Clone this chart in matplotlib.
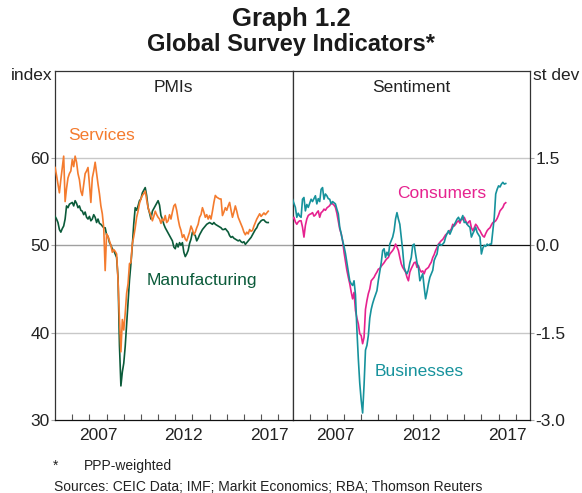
import matplotlib
matplotlib.use("Agg")
import matplotlib.pyplot as plt
import numpy as np

plt.rcParams['font.family'] = ['Liberation Sans', 'DejaVu Sans']

start_year = 2005
services = [
    58.9, 58.0, 57.0, 56.0, 57.5, 58.8, 60.2, 55.0, 56.5, 57.7, 58.2, 58.5,
    59.8, 59.0, 60.2, 59.5, 58.2, 57.5, 56.2, 55.7, 57.0, 58.2, 58.5, 58.9,
    57.0, 54.9, 57.7, 58.5, 59.5, 58.2, 57.0, 55.9, 54.5, 53.6, 52.0, 47.1,
    51.3, 51.0, 50.5, 50.0, 49.2, 49.5, 49.3, 49.0, 46.0, 41.5, 37.8, 41.5,
    40.3, 42.2, 44.5, 45.6, 47.9, 48.0, 50.2, 51.0, 52.0, 53.2, 53.9, 54.8,
    55.3, 55.7, 55.9, 56.2, 55.2, 54.3, 53.8, 53.4, 52.8, 53.3, 53.9, 53.5,
    53.2, 53.0, 52.5, 53.0, 52.8, 53.4, 52.6, 52.8, 53.5, 53.0, 53.8, 54.5,
    54.7, 54.0, 53.0, 52.2, 51.7, 50.9, 51.2, 50.7, 50.5, 51.0, 51.5, 52.2,
    51.8, 51.2, 51.5, 52.0, 52.4, 53.2, 53.5, 54.3, 53.8, 53.2, 53.5, 53.0,
    53.4, 53.0, 53.9, 54.9, 55.7, 55.5, 55.4, 55.3, 55.3, 53.4, 53.8, 54.3,
    54.0, 54.5, 54.9, 54.0, 53.2, 53.8, 54.5, 53.9, 53.2, 52.8, 52.4, 52.0,
    51.5, 51.2, 51.5, 51.3, 51.8, 51.6, 51.7, 52.2, 52.6, 53.0, 53.3, 53.6,
    53.3, 53.5, 53.7, 53.5, 53.7, 53.9,
]
manufacturing = [
    53.3, 53.0, 52.6, 51.8, 51.5, 51.9, 52.2, 53.0, 54.5, 54.3, 54.7, 54.8,
    54.9, 54.5, 55.1, 54.8, 54.3, 54.5, 54.0, 53.9, 53.5, 53.8, 53.2, 53.0,
    53.3, 52.8, 53.0, 53.5, 53.2, 52.6, 53.0, 52.5, 52.4, 52.2, 52.0, 52.0,
    51.2, 51.0, 50.3, 50.0, 49.6, 49.4, 49.0, 48.6, 46.3, 38.5, 33.9, 35.5,
    36.5, 38.4, 41.0, 43.5, 46.0, 47.9, 50.0, 52.5, 54.3, 54.0, 54.5, 55.1,
    55.3, 56.0, 56.3, 56.6, 55.7, 54.3, 53.7, 53.0, 53.9, 54.2, 54.5, 54.8,
    55.1, 54.6, 53.4, 53.0, 52.4, 52.0, 51.7, 51.4, 51.1, 50.8, 50.5, 49.8,
    49.6, 50.2, 49.8, 50.3, 50.0, 50.3, 49.2, 48.7, 49.0, 49.4, 50.2, 50.7,
    51.5, 51.3, 51.1, 50.5, 50.8, 51.2, 51.5, 51.8, 52.0, 52.2, 52.4, 52.5,
    52.6, 52.5, 52.4, 52.6, 52.4, 52.3, 52.2, 52.1, 52.0, 51.8, 51.8, 51.9,
    51.7, 51.5, 51.1, 50.9, 51.0, 50.8, 50.7, 50.6, 50.5, 50.6, 50.4, 50.3,
    50.4, 50.1, 50.3, 50.5, 50.7, 50.9, 51.2, 51.5, 51.8, 52.0, 52.4, 52.6,
    52.8, 52.9, 52.9, 52.7, 52.6, 52.6,
]
consumers = [
    0.45, 0.48, 0.40, 0.36, 0.40, 0.42, 0.42, 0.31, 0.14, 0.34, 0.45, 0.51,
    0.53, 0.54, 0.56, 0.50, 0.52, 0.56, 0.59, 0.48, 0.56, 0.58, 0.62, 0.60,
    0.64, 0.66, 0.68, 0.73, 0.71, 0.69, 0.65, 0.55, 0.42, 0.28, 0.20, 0.08,
    -0.12, -0.28, -0.43, -0.55, -0.66, -0.80, -0.92, -0.81, -1.12, -1.25, -1.35, -1.52,
    -1.55, -1.69, -1.58, -1.10, -0.95, -0.83, -0.75, -0.61, -0.58, -0.55, -0.50, -0.46,
    -0.41, -0.40, -0.36, -0.33, -0.30, -0.26, -0.23, -0.21, -0.15, -0.12, -0.09, -0.05,
    0.02, -0.03, -0.09, -0.21, -0.32, -0.38, -0.42, -0.46, -0.55, -0.61, -0.46, -0.40,
    -0.35, -0.30, -0.29, -0.38, -0.35, -0.42, -0.46, -0.44, -0.49, -0.42, -0.40, -0.38,
    -0.33, -0.29, -0.21, -0.16, -0.09, -0.04, 0.02, 0.05, 0.08, 0.10, 0.14, 0.18,
    0.20, 0.22, 0.25, 0.28, 0.36, 0.33, 0.36, 0.40, 0.42, 0.38, 0.45, 0.44,
    0.48, 0.42, 0.36, 0.40, 0.42, 0.30, 0.25, 0.30, 0.36, 0.33, 0.28, 0.25,
    0.20, 0.16, 0.14, 0.20, 0.25, 0.28, 0.30, 0.35, 0.39, 0.40, 0.42, 0.46,
    0.52, 0.59, 0.62, 0.65, 0.71, 0.73,
]
businesses = [
    0.79, 0.72, 0.65, 0.48, 0.55, 0.50, 0.48, 0.79, 0.82, 0.59, 0.70, 0.65,
    0.72, 0.79, 0.75, 0.80, 0.85, 0.71, 0.80, 0.75, 0.96, 0.99, 0.79, 0.88,
    0.85, 0.80, 0.79, 0.71, 0.75, 0.73, 0.71, 0.62, 0.54, 0.31, 0.20, 0.08,
    -0.02, -0.14, -0.30, -0.45, -0.61, -0.66, -0.69, -0.61, -0.85, -1.45, -1.95, -2.37,
    -2.66, -2.88, -2.40, -1.80, -1.72, -1.55, -1.25, -1.10, -1.00, -0.92, -0.85, -0.78,
    -0.60, -0.45, -0.30, -0.09, -0.06, -0.21, -0.12, -0.18, 0.02, 0.08, 0.14, 0.25,
    0.45, 0.56, 0.45, 0.36, 0.14, -0.09, -0.38, -0.45, -0.49, -0.43, -0.30, -0.21,
    0.00, 0.02, -0.15, -0.30, -0.38, -0.61, -0.55, -0.49, -0.72, -0.92, -0.80, -0.66,
    -0.55, -0.49, -0.43, -0.26, -0.20, -0.15, 0.01, 0.02, 0.00, 0.02, 0.05, 0.14,
    0.20, 0.25, 0.19, 0.25, 0.31, 0.35, 0.40, 0.45, 0.48, 0.42, 0.45, 0.51,
    0.39, 0.40, 0.36, 0.33, 0.31, 0.14, 0.20, 0.25, 0.31, 0.22, 0.18, 0.14,
    -0.15, -0.05, 0.00, -0.02, 0.02, 0.00, 0.02, 0.02, 0.25, 0.48, 0.88, 0.96,
    1.02, 1.00, 1.05, 1.08, 1.05, 1.06,
]

left_ticks = [30, 40, 50, 60]
right_ticks = [-3.0, -1.5, 0.0, 1.5]
year_labels = [2007, 2012, 2017]

c_serv = '#F47B2E'
c_manu = '#0B5B3A'
c_cons = '#E6228F'
c_bus = '#16929C'

x = start_year + np.arange(len(services)) / 12.0

W, H = 582, 493
fig = plt.figure(figsize=(W / 100, H / 100), dpi=100)

def fx(px):
    return px / W

def fy(py):
    return 1 - py / H

xl, xm, xr = 55.1, 292.5, 530.0
yt, yb = 70.5, 420.0
ax1 = fig.add_axes([fx(xl), fy(yb), fx(xm - xl), (yb - yt) / H])
ax2 = fig.add_axes([fx(xm), fy(yb), fx(xr - xm), (yb - yt) / H])

xlim = (2005.0, 2018.83)
FS = 12.5

for ax in (ax1, ax2):
    ax.set_xlim(*xlim)
    ax.set_xticks(np.arange(2006, 2019))
    ax.set_xticklabels([])
    ax.set_xticks([y + 0.5 for y in year_labels], minor=True)
    ax.set_xticklabels([str(y) for y in year_labels], minor=True, fontsize=FS, color='#222222')
    ax.tick_params(axis='x', which='major', direction='in', length=4.5, width=0.8, color='#555555')
    ax.tick_params(axis='x', which='minor', length=0, pad=6)
    for s in ax.spines.values():
        s.set_color('#333333')
        s.set_linewidth(0.9)
    ax.spines['bottom'].set_color('#111111')

# left panel
ax1.set_ylim(30, 70)
ax1.set_yticks(left_ticks)
ax1.set_yticklabels([str(t) for t in left_ticks], fontsize=FS, color='#222222')
ax1.tick_params(axis='y', direction='out', length=3, width=0.8, color='#aaaaaa', pad=1)
for v in [40, 60]:
    ax1.axhline(v, color='#c8c8c8', lw=1.0, zorder=1)
ax1.axhline(50, color='#a0a0a0', lw=1.0, zorder=1)
ax1.plot(x, manufacturing, color=c_manu, lw=1.2, zorder=3)
ax1.plot(x, services, color=c_serv, lw=1.2, zorder=4)

# right panel
ax2.set_ylim(-3, 3)
ax2.yaxis.tick_right()
ax2.set_yticks(right_ticks)
ax2.set_yticklabels([f"{t:.1f}" for t in right_ticks], fontsize=FS, color='#222222')
ax2.tick_params(axis='y', direction='out', length=3, width=0.8, color='#aaaaaa', pad=1)
for v in [-1.5, 1.5]:
    ax2.axhline(v, color='#c8c8c8', lw=1.0, zorder=1)
ax2.axhline(0, color='#111111', lw=0.9, zorder=1)
ax2.plot(x, consumers, color=c_cons, lw=1.2, zorder=3)
ax2.plot(x, businesses, color=c_bus, lw=1.2, zorder=4)

# panel titles
ax1.text(0.5, (yb - 88) / (yb - yt), 'PMIs', transform=ax1.transAxes, ha='center', va='center', fontsize=FS, color='#222222')
ax2.text(0.5, (yb - 88) / (yb - yt), 'Sentiment', transform=ax2.transAxes, ha='center', va='center', fontsize=FS, color='#222222')

# series labels
fig.text(fx(68), fy(136), 'Services', ha='left', va='center', fontsize=FS, color=c_serv)
fig.text(fx(147), fy(280), 'Manufacturing', ha='left', va='center', fontsize=FS, color=c_manu)
fig.text(fx(397), fy(193), 'Consumers', ha='left', va='center', fontsize=FS, color=c_cons)
fig.text(fx(375), fy(371), 'Businesses', ha='left', va='center', fontsize=FS, color=c_bus)

# unit labels
fig.text(fx(52), fy(75), 'index', ha='right', va='center', fontsize=FS, color='#222222')
fig.text(fx(533), fy(75), 'st dev', ha='left', va='center', fontsize=FS, color='#222222')

# titles
fig.text(0.5, fy(19), 'Graph 1.2', ha='center', va='center', fontsize=18.5, fontweight='bold', color='#1a1a1a')
fig.text(0.5, fy(45), 'Global Survey Indicators*', ha='center', va='center', fontsize=17, fontweight='bold', color='#1a1a1a')

# footnotes
fig.text(fx(53), fy(466), '*', ha='left', va='center', fontsize=10, color='#222222')
fig.text(fx(83.5), fy(466), 'PPP-weighted', ha='left', va='center', fontsize=10, color='#222222')
fig.text(fx(54), fy(487), 'Sources: CEIC Data; IMF; Markit Economics; RBA; Thomson Reuters', ha='left', va='center', fontsize=10, color='#222222')

fig.savefig('out.png', dpi=100)
